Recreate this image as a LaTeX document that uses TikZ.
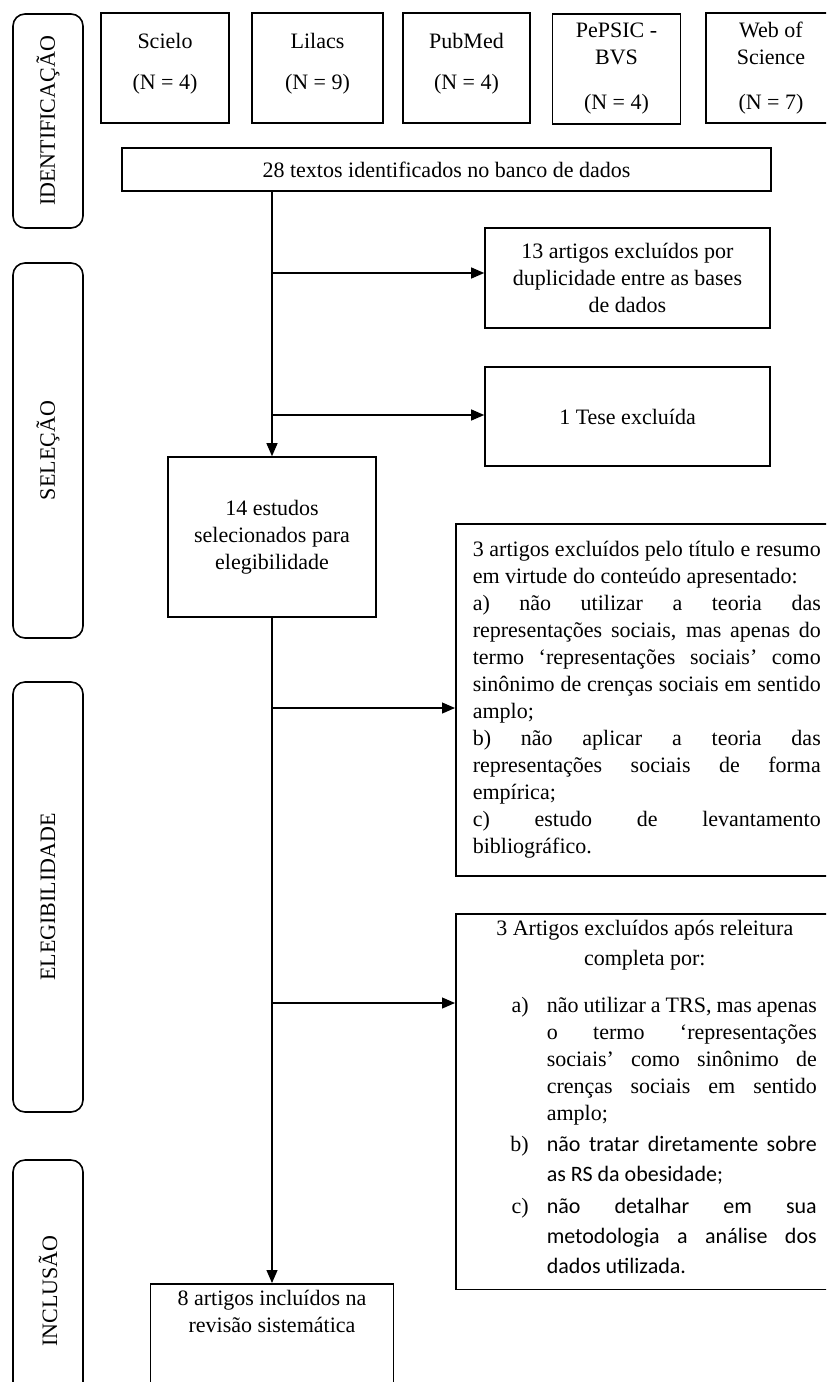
\documentclass[tikz,border=0pt]{standalone}
\usepackage{fontspec}
\setmainfont{Liberation Serif}
\newfontfamily\carlito{Carlito}
\usetikzlibrary{arrows.meta}
\hyphenpenalty=10000
\newcommand{\tnr}{\fontsize{11}{13.5}\selectfont}
\newcommand{\cbr}{\carlito\fontsize{11}{15}\selectfont}
\newcommand{\alinea}[3]{\makebox[28pt][r]{#1}\hspace{9pt}%
    \parbox[t]{135pt}{\leftskip=0pt\rightskip=0pt\parfillskip=0pt plus 1fil%
        #2\strut #3\strut}}

\begin{document}
\begin{tikzpicture}[x=0.5pt, y=-0.5pt,
        font=\tnr,
        fase/.style={draw, thick, rounded corners=6pt, rotate=90,
            minimum height=35pt, inner sep=0pt},
        base/.style={draw, thick, minimum width=64pt, minimum height=55pt,
            align=center, inner sep=2pt},
        curta/.style={base, text depth=7pt},
        caixa/.style={draw, thick, align=center},
        seta/.style={line width=0.6pt, -{Triangle[length=6.5pt, width=5.5pt]}}
    ]
    \useasboundingbox (0,0) rectangle (826,1382);
    \clip (0,0) rectangle (826,1382);

    % fases
    \node[fase, minimum width=107pt] (fid) at (48,121) {IDENTIFICAÇÃO};
    \node[fase, minimum width=187.5pt] (fsel) at (48,450.5) {SELEÇÃO};
    \node[fase, minimum width=215pt] (fele) at (48,897) {ELEGIBILIDADE};
    \node[fase, minimum width=131pt] (finc) at (48,1291) {INCLUSÃO};

    % bases
    \node[curta] (scielo) at (165,68) {Scielo\\[7pt](N = 4)};
    \node[curta, minimum width=65.5pt] (lilacs) at (317.5,68) {Lilacs\\[7pt](N = 9)};
    \node[curta, minimum width=63.5pt] (pubmed) at (466.5,68) {PubMed\\[7pt](N = 4)};
    \node[base] (pepsic) at (616.5,69) {PePSIC -\\BVS\\[9pt](N = 4)};
    \node[base, minimum width=65pt] (wos) at (771,68) {Web of\\Science\\[9pt](N = 7)};

    \node[caixa, minimum width=324.5pt, minimum height=21.5pt] (total) at (446.5,169.5)
        {28 textos identificados no banco de dados};
    \node[caixa, minimum width=142.5pt, minimum height=50pt] (dup) at (627.5,278)
        {13 artigos excluídos por\\duplicidade entre as bases\\de dados};
    \node[caixa, minimum width=142.5pt, minimum height=49.5pt] (tese) at (627.5,416.5)
        {1 Tese excluída};
    \node[caixa, minimum width=104pt, minimum height=80pt] (elegiveis) at (272,537)
        {14 estudos\\selecionados para\\elegibilidade};

    \node[draw, thick, anchor=north west, text width=174pt, inner xsep=8.5pt,
          minimum height=176pt, align=justify] (excl1) at (455,523)
        {3 artigos excluídos pelo título e resumo em virtude do conteúdo apresentado:\\
         a) não utilizar a teoria das representações sociais, mas apenas do\linebreak
         termo ‘representações sociais’ como sinônimo de crenças sociais em sentido amplo;\\
         b) não aplicar a teoria das representações sociais de forma empírica;\\
         c) estudo de levantamento\linebreak bibliográfico.};

    \node[draw, thick, anchor=north west, text width=172pt, inner xsep=8.5pt,
          minimum height=186pt, align=justify] (excl2) at (455,913)
        {\makebox[\linewidth]{3 Artigos excluídos após releitura}\\[1.5pt]
         \makebox[\linewidth]{completa por:}\\[10pt]
         \alinea{a)}{\tnr}{não utilizar a TRS, mas apenas o termo ‘representações
            sociais’ como sinônimo de crenças sociais em sentido amplo;}\\
         \alinea{b)}{\cbr}{não tratar diretamente sobre as RS da obesidade;}\\
         \alinea{c)}{\cbr}{não detalhar em sua metodologia a análise dos dados utilizada.}};

    \node[caixa, minimum width=121.5pt, anchor=north] (incl) at (272,1283)
        {8 artigos incluídos na\\revisão sistemática\\[40pt]\mbox{}};

    % ligacoes
    \coordinate (j1) at (272,273);
    \coordinate (j2) at (272,415);
    \coordinate (j3) at (272,708);
    \coordinate (j4) at (272,1003);

    \draw[seta] (elegiveis.north |- total.south) -- (elegiveis.north);
    \draw[seta] (j1) -- (j1 -| dup.west);
    \draw[seta] (j2) -- (j2 -| tese.west);
    \draw[seta] (elegiveis.south) -- (incl.north);
    \draw[seta] (j3) -- (j3 -| excl1.west);
    \draw[seta] (j4) -- (j4 -| excl2.west);
\end{tikzpicture}
\end{document}
